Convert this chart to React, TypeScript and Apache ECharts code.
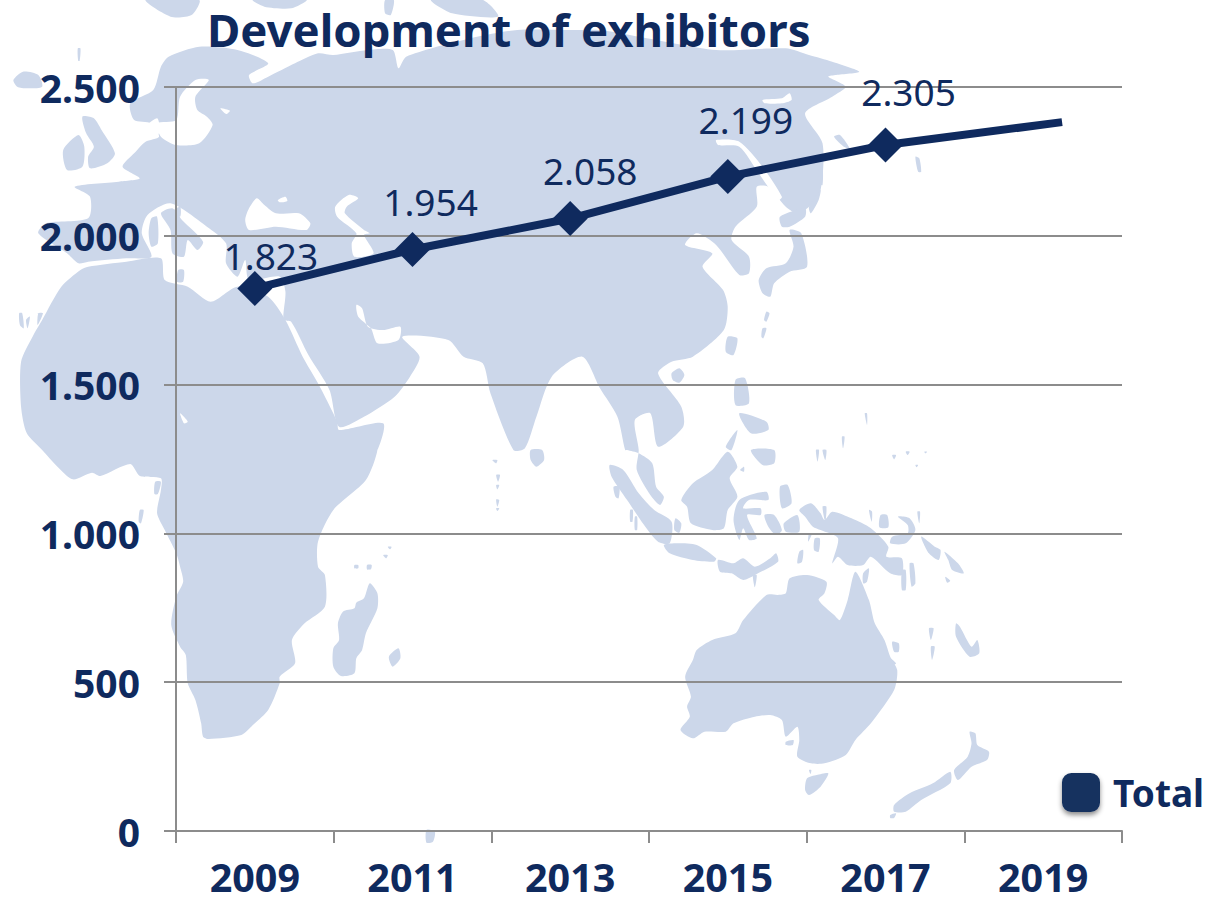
import React, { useEffect, useRef } from "react";
import * as echarts from "echarts";

const titleText = "Development of exhibitors";
const seriesName = "Total";
const categories = ["2009", "2011", "2013", "2015", "2017", "2019"];
const years = [2009, 2011, 2013, 2015, 2017, 2019.24];
const exhibitors = [1823, 1954, 2058, 2199, 2305, 2382];
const valueTicks = [0, 500, 1000, 1500, 2000, 2500];
const labelNudges = [[16, 8], [18, -7], [20, -7], [18, -16], [23, -13]];

const NAVY = "#0f2a5e";
const LAND = "#ccd7ea";
const FONT = "'Noto Sans', 'Open Sans', sans-serif";

type P = number[][];
const conv = (ox: number, oy: number, sx: number) => (...n: number[]): P => {
  const out: P = [];
  for (let i = 0; i < n.length; i += 2) out.push([ox + n[i] / sx, oy + n[i + 1] / 3]);
  return out;
};
const a = conv(0, 0, 2.61);
const b = conv(600, 0, 2.584);
const c = conv(0, 450, 2.61);
const d = conv(600, 450, 2.584);

const eurasia: P = [
  ...a(740,960, 760,965, 805,1065, 860,1170, 885,1280, 950,1250, 1030,1190, 1070,1130, 1095,1070, 1050,1010, 1170,1020, 1210,1070, 1260,1090, 1280,1180, 1340,1350, 1370,1345, 1400,1250, 1440,1130, 1520,1070),
  ...b(0,1165, 45,1250, 65,1350),
  ...d(70,0, 100,10, 135,40, 145,110, 165,140, 155,165, 130,135, 95,60),
  ...b(100,1350, 90,1260, 130,1240, 150,1340, 215,1280, 210,1220, 150,1120, 185,1085, 240,1070, 320,990, 330,920, 318,870, 265,800, 290,760, 220,735, 250,700, 300,735, 360,825, 385,820, 385,770, 340,720, 350,680, 405,620, 405,560, 435,560, 480,620, 510,640, 540,620, 570,570, 575,430, 530,340, 600,290, 635,260, 590,230, 610,225, 670,215, 600,185, 540,165, 480,145, 300,150, 100,110, 0,90),
  ...a(1500,90, 1350,90, 1210,120, 1060,170, 1040,205, 1025,150, 960,150, 870,165, 830,160, 770,190, 700,230, 660,250, 650,225, 700,190, 620,150, 520,140, 440,170, 420,200, 400,270, 340,310, 350,360, 395,370, 415,410, 380,425, 350,460, 320,500, 365,535, 310,545, 195,560, 235,590, 230,655, 120,670, 100,700, 175,760, 205,790, 230,785, 330,775, 395,770, 370,700, 385,645, 445,610, 540,680, 590,730, 590,790, 620,830, 640,780, 650,840, 730,830, 745,875),
];

const africa: P = [
  ...a(745,960, 790,1070, 830,1150, 880,1265, 885,1290, 1000,1270, 985,1350, 965,1350),
  ...c(985,0, 955,90, 870,180, 830,275, 830,350, 848,375, 848,470, 795,520, 762,570, 770,640, 730,680, 730,700, 700,780, 660,825, 630,855, 545,867, 530,860, 525,820, 510,750, 490,700, 485,615, 470,590, 447,525, 460,440, 478,395, 470,350, 460,310, 430,240, 410,190, 420,120, 420,85, 365,78, 340,42, 262,78, 240,68, 190,88, 150,50, 110,0),
  ...a(70,1300, 55,1220, 55,1085, 85,1010, 110,960, 160,860, 210,810, 230,800, 330,785, 420,775, 430,840, 490,860, 550,905, 620,860, 700,890),
];

const land: P[] = [
  eurasia,
  africa,
  // Europe and Atlantic
  a(35,240, 60,215, 100,225, 110,260, 70,265, 45,260),
  a(215,350, 245,355, 265,390, 300,460, 280,490, 235,505, 230,470, 245,440, 225,400),
  a(165,450, 205,405, 220,440, 215,500, 175,510),
  a(380,0, 520,0, 500,45, 445,50),
  a(660,0, 800,0, 760,25, 690,20),
  a(1005,0, 1028,0, 1020,45, 1005,40),
  a(1125,0, 1260,0, 1300,50, 1180,40),
  a(203,145, 210,145, 208,182, 204,182),
  a(50,940, 58,940, 62,985, 52,975),
  a(68,960, 78,950, 72,985),
  a(100,940, 112,940, 98,975),
];

const water: P[] = [
  a(470,290, 510,240, 545,240, 510,290, 515,330, 540,350, 555,375, 520,430, 460,435, 420,410, 410,370, 460,360),
  a(575,325, 600,332, 590,342),
  a(640,660, 650,625, 670,595, 690,615, 720,640, 780,640, 810,670, 800,690, 720,680, 650,690),
  a(725,600, 745,590, 750,603, 730,607),
  a(875,620, 910,585, 935,595, 905,620, 900,640, 950,690, 965,700, 950,705, 975,760, 925,770, 918,730, 930,700, 880,650),
  a(930,915, 945,925, 960,980, 1000,990, 1045,980, 1040,1020, 985,1030, 968,985, 935,950),
  a(345,395, 360,395, 410,355, 415,400, 385,415),
  b(420,300, 470,295, 490,280, 495,300, 470,310, 425,310),
  b(300,420, 360,425, 420,500, 470,590, 460,600, 410,520, 360,440, 305,435),
  a(470,1240, 490,1265, 480,1270),
];

const islands: P[] = [
  // Mediterranean
  a(395,655, 410,650, 412,730, 395,740, 388,700),
  a(420,640, 450,625, 475,660, 530,725, 515,750, 490,720, 480,770, 450,760, 445,690),
  a(465,810, 480,810, 478,845, 462,845),
  a(445,640, 470,620, 470,650),
  // Africa side
  c(965,400, 985,430, 985,475, 955,550, 945,600, 930,625, 925,670, 890,678, 870,650, 870,595, 885,570, 882,520, 895,485, 925,475, 930,458, 950,445),
  c(1015,620, 1040,595, 1045,625, 1025,650),
  c(405,95, 420,95, 412,132, 403,132),
  c(365,180, 375,180, 368,220, 362,215),
  c(1113,1140, 1135,1145, 1130,1175, 1113,1178),
  c(925,345, 935,345, 935,355, 925,355),
  c(958,345, 970,345, 968,358, 958,358),
  c(1000,315, 1012,315, 1008,325),
  c(1012,290, 1022,290, 1018,298),
  c(1385,0, 1415,0, 1420,30, 1400,50, 1385,30),
  c(1285,30, 1298,30, 1295,40),
  c(1295,75, 1305,75, 1300,95),
  c(1295,105, 1303,105, 1298,118),
  c(1295,148, 1303,150, 1298,170),
  c(1295,175, 1303,175, 1298,183),
  // East Asia
  b(490,690, 520,700, 535,800, 490,815, 450,850, 440,890, 420,880, 410,840, 430,805, 480,790, 500,740),
  b(465,650, 530,625, 530,650, 490,680, 470,680),
  b(540,620, 570,570, 565,600, 545,640),
  b(568,490, 575,490, 575,555, 565,550),
  b(605,410, 620,405, 645,445, 630,440),
  b(815,470, 825,475, 830,515, 822,515),
  b(330,1010, 355,1015, 345,1065, 325,1055),
  b(430,935, 438,940, 430,965, 424,960),
  b(420,985, 430,985, 422,1015, 417,1010),
  b(185,1120, 205,1105, 218,1125, 205,1148, 188,1140),
  b(350,1140, 375,1135, 385,1210, 350,1215),
  b(360,1240, 430,1265, 435,1290, 390,1300),
  b(325,1340, 355,1290, 340,1350),
  b(684,1240, 690,1240, 690,1275),
  b(625,1310, 632,1310, 628,1345),
  b(575,1350, 585,1350, 582,1380),
  d(390,0, 450,0, 450,40, 420,45),
  d(558,0, 566,0, 562,35),
  d(755,15, 765,15, 760,28),
  d(790,5, 800,5, 795,15),
  d(815,45, 822,45, 818,52),
  d(838,5, 845,5, 841,10),
  d(362,60, 372,50, 372,65),
  // Indonesia and Pacific
  d(25,45, 60,60, 100,130, 140,180, 185,215, 180,280, 150,275, 120,235, 70,150, 30,80),
  d(35,110, 50,110, 48,145, 40,140),
  d(78,180, 85,180, 84,215, 78,215),
  d(90,200, 96,200, 96,240, 90,240),
  d(195,205, 210,220, 205,248, 192,240),
  d(210,150, 240,100, 290,60, 330,5, 355,50, 335,85, 355,140, 330,180, 320,235, 290,240, 235,220, 225,170),
  d(165,285, 200,280, 250,285, 300,325, 295,335, 240,330, 180,310),
  d(305,330, 345,340, 370,325, 400,350, 440,325, 455,310, 460,335, 400,375, 370,390, 340,370, 310,365),
  d(395,375, 405,375, 400,412),
  d(360,150, 430,125, 435,150, 385,150, 370,175, 415,175, 415,195, 380,195, 405,265, 385,270, 370,235, 360,270, 345,210),
  d(425,195, 450,195, 470,240, 455,255, 435,230),
  d(475,220, 510,195, 515,245, 480,245),
  d(465,110, 485,105, 495,160, 470,175),
  d(515,180, 545,160, 570,190, 580,210, 600,185, 650,205, 700,235, 745,290, 740,320, 780,325, 780,375, 750,370, 700,320, 680,345, 640,345, 615,320, 600,340, 615,265, 570,240, 550,230, 530,200),
  d(555,265, 568,265, 565,305, 553,300),
  d(515,305, 525,300, 522,335, 510,340),
  d(540,250, 548,250, 538,275),
  d(695,180, 703,185, 702,215),
  d(725,195, 742,195, 745,232, 722,232),
  d(575,170, 585,170, 582,215),
  d(820,185, 827,185, 825,220),
  d(770,200, 800,205, 815,240, 790,280, 750,280, 755,260, 795,250, 795,225),
  d(830,260, 865,290, 880,300, 875,330, 850,310),
  d(890,305, 925,340, 940,370, 910,360, 900,330),
  d(892,380, 905,392, 897,398),
  d(780,360, 790,360, 790,420, 780,420),
  d(800,340, 810,340, 815,400, 805,410),
  d(680,370, 695,355, 690,395, 680,400),
  // Australia and New Zealand
  d(490,385, 535,375, 585,395, 580,430, 565,450, 605,495, 620,510, 640,450, 660,365, 695,450, 710,520, 735,570, 750,620, 768,660, 760,720, 700,820, 660,870, 635,915, 580,940, 545,940, 510,920, 515,870, 510,830, 480,860, 470,810, 440,795, 400,800, 345,820, 325,845, 270,845, 240,865, 208,840, 232,800, 225,770, 235,740, 220,680, 240,630, 250,600, 290,570, 350,550, 370,510, 430,435, 460,435, 480,430),
  d(755,575, 772,580, 772,605, 760,605),
  d(750,625, 765,640, 758,645),
  d(480,875, 500,870, 498,885, 480,885),
  d(535,985, 560,975, 590,970, 570,1010, 540,1035, 530,1020),
  d(540,960, 546,960, 544,972),
  d(955,845, 970,850, 975,885, 1005,905, 1000,930, 960,950, 925,990, 915,960, 950,920, 960,880),
  d(905,965, 905,1000, 830,1050, 790,1085, 760,1085, 760,1065, 800,1030, 860,1000),
  d(750,1095, 765,1090, 760,1104, 750,1104),
  d(920,520, 930,530, 960,590, 975,570, 980,610, 955,620, 920,560),
  d(850,535, 862,535, 855,570),
  d(855,590, 865,590, 858,630),
];

const poly = (points: P, fill: string, z: number) => ({
  type: "polygon",
  silent: true,
  z,
  shape: { points, smooth: 0.25 },
  style: { fill },
});

export default function App() {
  const ref = useRef<HTMLDivElement>(null);

  useEffect(() => {
    document.body.style.margin = "0";
    const chart = echarts.init(ref.current!, null, { renderer: "svg" });
    const seriesData = exhibitors.map((v, i) => {
      const nudge = labelNudges[i];
      return nudge
        ? { value: [years[i], v], label: { show: true, offset: nudge } }
        : { value: [years[i], v], symbol: "none", label: { show: false } };
    });
    chart.setOption({
      animation: false,
      backgroundColor: "#ffffff",
      textStyle: { fontFamily: FONT },
      graphic: {
        z: -10,
        elements: [
          ...land.map((p) => poly(p, LAND, -10)),
          ...water.map((p) => poly(p, "#ffffff", -9)),
          ...islands.map((p) => poly(p, LAND, -8)),
        ],
      },
      title: {
        text: titleText,
        left: 202,
        top: 1,
        textStyle: { color: NAVY, fontFamily: FONT, fontWeight: "bold", fontSize: 45.5 },
      },
      legend: {
        data: [seriesName],
        left: 1062,
        top: 773,
        padding: 0,
        itemWidth: 38,
        itemHeight: 39,
        icon: "roundRect",
        itemStyle: { color: "#13305f", shadowBlur: 5, shadowColor: "rgba(0,0,0,0.45)", shadowOffsetY: 3 },
        textStyle: { color: NAVY, fontFamily: FONT, fontWeight: "bold", fontSize: 37, padding: [4, 0, 0, 8] },
      },
      grid: { left: 176, right: 85, top: 87, bottom: 67, containLabel: false, outerBoundsMode: "none" },
      xAxis: [
        {
          type: "category",
          data: categories,
          boundaryGap: true,
          axisLine: { lineStyle: { color: "#8c8c8c", width: 2 } },
          axisTick: { show: true, length: 12, alignWithLabel: false, lineStyle: { color: "#8c8c8c", width: 2 } },
          axisLabel: { color: NAVY, fontFamily: FONT, fontWeight: "bold", fontSize: 39.5, margin: 26 },
          splitLine: { show: false },
        },
        { type: "value", min: 2008, max: 2020, show: false, splitLine: { show: false } },
      ],
      yAxis: {
        type: "value",
        min: valueTicks[0],
        max: valueTicks[valueTicks.length - 1],
        interval: 500,
        axisLine: { show: true, lineStyle: { color: "#8c8c8c", width: 2 } },
        axisTick: { show: true, length: 12, lineStyle: { color: "#8c8c8c", width: 2 } },
        splitLine: { show: true, lineStyle: { color: "#8c8c8c", width: 2 } },
        axisLabel: {
          color: NAVY,
          fontFamily: FONT,
          fontWeight: "bold",
          fontSize: 39,
          margin: 36,
          formatter: (v: number) => String(v).replace(/(\d)(\d{3})$/, "$1.$2"),
        },
      },
      series: [
        {
          name: seriesName,
          type: "line",
          xAxisIndex: 1,
          data: seriesData,
          symbol: "diamond",
          symbolSize: 35,
          lineStyle: { color: NAVY, width: 8 },
          itemStyle: { color: NAVY },
          label: {
            show: true,
            position: "top",
            color: NAVY,
            fontFamily: FONT,
            fontSize: 37,
            formatter: (p: any) => String(p.value[1]).replace(/(\d)(\d{3})$/, "$1.$2"),
          },
        },
      ],
    });
    return () => chart.dispose();
  }, []);

  return <div ref={ref} style={{ position: "absolute", left: 0, top: 0, width: 1207, height: 898 }} />;
}
